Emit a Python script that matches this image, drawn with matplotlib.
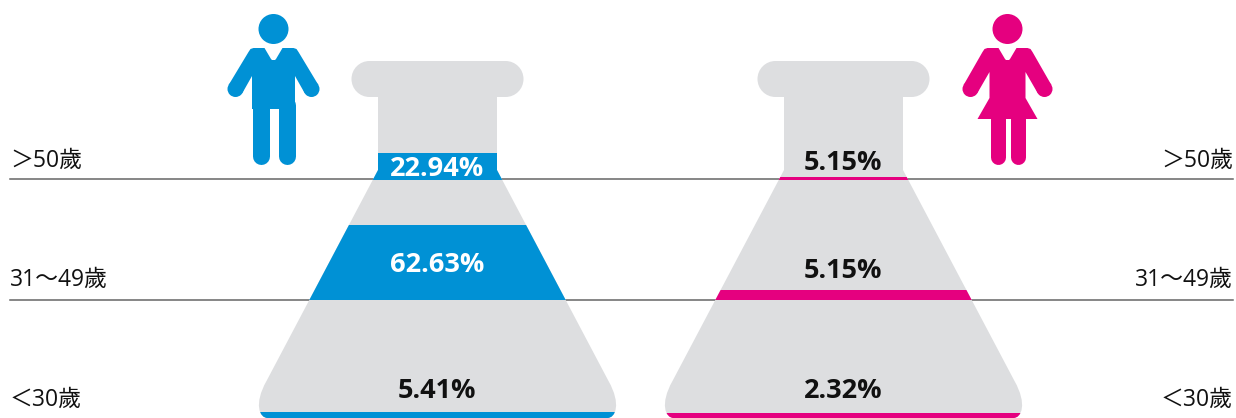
import matplotlib
matplotlib.use("Agg")
import matplotlib.pyplot as plt
from matplotlib.patches import Circle, PathPatch, Rectangle
from matplotlib.path import Path

ages = ["＞50歲", "31～49歲", "＜30歲"]
male_values = [22.94, 62.63, 5.41]
female_values = [5.15, 5.15, 2.32]

# the band heights in the picture do not follow the pink labels, so they stay separate
male_band_px = [27, 75, 6]
female_band_px = [3, 10, 5]

BLUE = "#0091d5"
PINK = "#e5007f"
GREY = "#dddee0"
DARK = "#111111"
FONTS = ["Open Sans", "Noto Sans CJK TC", "DejaVu Sans"]

# floor of each band, in pixels from the top
floors = [180, 300, 418]
label_y = [161, 280, 400]


def flask_path(cx):
    M, L, C, Z = Path.MOVETO, Path.LINETO, Path.CURVE4, Path.CLOSEPOLY
    k = 10  # handle length for the cap corners
    steps = [
        (M, -68, 61), (L, 68, 61),
        (C, 68 + k, 61), (C, 86, 79 - k), (C, 86, 79),
        (C, 86, 79 + k), (C, 68 + k, 97), (C, 68, 97),
        (L, 59.5, 97), (L, 59.5, 170), (L, 171, 381),
        (C, 184, 404), (C, 178, 418), (C, 170, 418),
        (L, -170, 418),
        (C, -178, 418), (C, -184, 404), (C, -171, 381),
        (L, -59.5, 170), (L, -59.5, 97), (L, -68, 97),
        (C, -68 - k, 97), (C, -86, 79 + k), (C, -86, 79),
        (C, -86, 79 - k), (C, -68 - k, 61), (C, -68, 61),
        (Z, -68, 61),
    ]
    return Path([(cx + s[1], s[2]) for s in steps], [s[0] for s in steps])


def person(ax, cx, colour, woman=False):
    ax.add_patch(Circle((cx, 29), 15, fc=colour, ec="none", zorder=3))
    hand_x = 37 if woman else 38
    half_w = 18 if woman else 21.5
    armpit = 72 if woman else 76
    side = [(1.5, 60), (2.5, 59), (9, 48), (20, 48), (23, 49), (25, 52),
            (hand_x + 6.9, 85), (hand_x - 6.9, 93), (half_w, armpit)]
    if woman:
        side += [(half_w, 98), (30, 119)]
    else:
        side += [(half_w, 109)]
    outline = side + [(-x, y) for x, y in reversed(side)]
    ax.fill([cx + p[0] for p in outline], [p[1] for p in outline], fc=colour, ec="none", zorder=3)
    for s in (-1, 1):
        ax.add_patch(Circle((cx + s * hand_x, 89), 8, fc=colour, ec="none", zorder=3))
    leg_x, leg_w = (10, 15) if woman else (13, 17)
    for s in (-1, 1):
        ax.plot([cx + s * leg_x] * 2, [105, 164 - leg_w / 2], color=colour, lw=leg_w * 0.72,
                solid_capstyle="round", zorder=3)


def flask(ax, cx, values, heights, colour, text_colours, text_y):
    shape = PathPatch(flask_path(cx), fc=GREY, ec="none", zorder=2)
    ax.add_patch(shape)
    for val, h, floor, tc, ty in zip(values, heights, floors, text_colours, text_y):
        band = Rectangle((cx - 200, floor - h), 400, h, fc=colour, ec="none", zorder=3)
        ax.add_patch(band)
        band.set_clip_path(shape)
        ax.text(cx - 0.5, ty, f"{val:.2f}%", color=tc, fontsize=19.5, fontweight="bold",
                ha="center", va="center", family=FONTS, zorder=4)


fig = plt.figure(figsize=(12.36, 4.18), dpi=100)
ax = fig.add_axes([0, 0, 1, 1])
ax.set_xlim(0, 1236)
ax.set_ylim(418, 0)
ax.axis("off")

for y in [179, 300]:
    ax.plot([10, 1233], [y, y], color="#666666", lw=1.1, zorder=1)

flask(ax, 437.5, male_values, male_band_px, BLUE, ["white", "white", DARK], [168.5, 264.5, 390.5])
flask(ax, 843.5, female_values, female_band_px, PINK, [DARK, DARK, DARK], [162.5, 270.5, 390.5])

person(ax, 273.5, BLUE)
person(ax, 1007.5, PINK, woman=True)

for name, y in zip(ages, label_y):
    ax.text(10, y, name, fontsize=16.5, color=DARK, ha="left", va="center", family=FONTS)
    ax.text(1233, y, name, fontsize=16.5, color=DARK, ha="right", va="center", family=FONTS)

fig.savefig("out.png", dpi=100)
